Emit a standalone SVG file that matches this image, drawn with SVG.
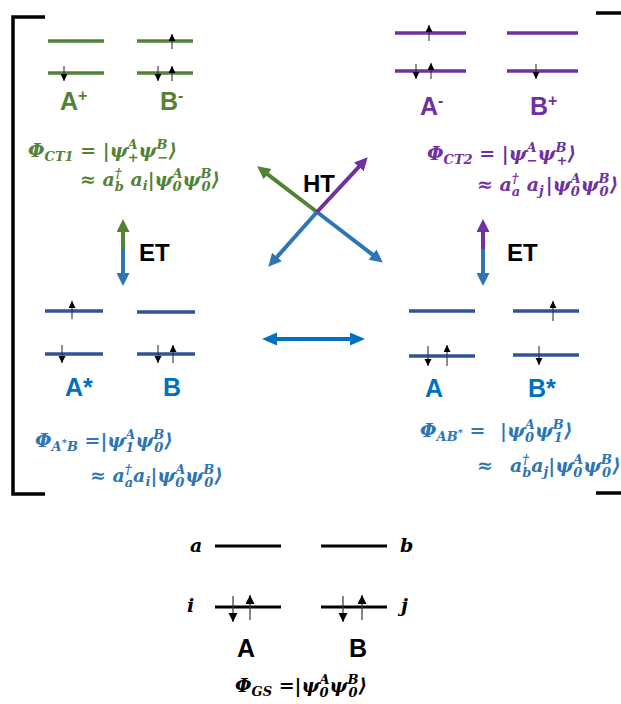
<svg xmlns="http://www.w3.org/2000/svg" width="621" height="704" viewBox="0 0 621 704">
<style>
.lv{stroke-width:3.5;fill:none}
.lg{stroke:#548235}.lp{stroke:#7030a0}.lb{stroke:#2f5597}.lk{stroke:#000;stroke-width:3}
.e{stroke:#333;stroke-width:1.1;marker-end:url(#eh)}
.ek{stroke:#333;stroke-width:1.2;marker-end:url(#ehk)}
.lab{font-family:"Liberation Sans",Arial,sans-serif;font-weight:bold;font-size:25px}
.m{font-family:"DejaVu Serif","Liberation Serif",serif;font-weight:bold;font-style:italic;font-size:19px}
.s{font-size:13px}
.ss{font-size:10px}
.tg{fill:#548235}.tp{fill:#7030a0}.tb{fill:#2e75b6}.tl{fill:#0070c0}.tk{fill:#000}
.br{stroke:#000;stroke-width:3.5;fill:none}
.ht{font-family:"Liberation Sans",Arial,sans-serif;font-weight:bold;font-size:24px;fill:#000}
</style>
<defs>
<marker id="eh" markerUnits="userSpaceOnUse" markerWidth="8" markerHeight="8" refX="7" refY="3.5" orient="auto"><path d="M0,0L7,3.5L0,7z" fill="#000"/></marker>
<marker id="ehk" markerUnits="userSpaceOnUse" markerWidth="10" markerHeight="10" refX="9" refY="4.5" orient="auto"><path d="M0,0L9,4.5L0,9z" fill="#000"/></marker>
<marker id="ag" markerUnits="userSpaceOnUse" markerWidth="14" markerHeight="14" refX="4" refY="6.5" orient="auto-start-reverse"><path d="M0,0L13,6.5L0,13z" fill="#548235"/></marker>
<marker id="ap" markerUnits="userSpaceOnUse" markerWidth="14" markerHeight="14" refX="4" refY="6.5" orient="auto-start-reverse"><path d="M0,0L13,6.5L0,13z" fill="#7030a0"/></marker>
<marker id="ab" markerUnits="userSpaceOnUse" markerWidth="14" markerHeight="14" refX="4" refY="6.5" orient="auto-start-reverse"><path d="M0,0L13,6.5L0,13z" fill="#2e75b6"/></marker>
<marker id="ac" markerUnits="userSpaceOnUse" markerWidth="16" markerHeight="14" refX="4" refY="6.5" orient="auto-start-reverse"><path d="M0,0L15,6.5L0,13z" fill="#0070c0"/></marker>
</defs>
<rect width="621" height="704" fill="#fff"/>

<g id="brackets">
<path class="br" d="M45,17H13V494H45"/>
<path class="br" d="M596,13H621M596,493H621"/>
</g>

<g id="ct1">
<line class="lv lg" x1="48" y1="41" x2="104" y2="41"/>
<line class="lv lg" x1="48" y1="73" x2="104" y2="73"/>
<line class="lv lg" x1="137" y1="41" x2="193" y2="41"/>
<line class="lv lg" x1="137" y1="73" x2="193" y2="73"/>
<line class="e" x1="64" y1="66" x2="64" y2="81"/>
<line class="e" x1="172" y1="49" x2="172" y2="34"/>
<line class="e" x1="158" y1="66" x2="158" y2="81"/>
<line class="e" x1="172" y1="81" x2="172" y2="66"/>
<text class="lab tg" x="60" y="110">A<tspan font-size="16" dy="-9">+</tspan></text>
<text class="lab tg" x="160" y="110">B<tspan font-size="16" dy="-9">-</tspan></text>
<text class="m tg" x="28" y="157">Φ<tspan class="s" dy="4">CT1</tspan><tspan dy="-4"> = |ψ</tspan><tspan class="s" dy="-8">A</tspan><tspan class="s" dx="-10" dy="13">+</tspan><tspan dy="-5">ψ</tspan><tspan class="s" dy="-8">B</tspan><tspan class="s" dx="-10" dy="13">−</tspan><tspan dy="-5">⟩</tspan></text>
<text class="m tg" x="80" y="186">≈ a<tspan class="s" dy="-8">†</tspan><tspan class="s" dx="-7" dy="13">b</tspan><tspan dy="-5"> a</tspan><tspan class="s" dy="4">i</tspan><tspan dy="-4">|ψ</tspan><tspan class="s" dy="-8">A</tspan><tspan class="s" dx="-10" dy="13">0</tspan><tspan dy="-5" dx="1">ψ</tspan><tspan class="s" dy="-8">B</tspan><tspan class="s" dx="-10" dy="13">0</tspan><tspan dy="-5" dx="1">⟩</tspan></text>
</g>

<g id="ct2">
<line class="lv lp" x1="395" y1="33" x2="466" y2="33"/>
<line class="lv lp" x1="395" y1="71" x2="466" y2="71"/>
<line class="lv lp" x1="507" y1="33" x2="578" y2="33"/>
<line class="lv lp" x1="507" y1="71" x2="578" y2="71"/>
<line class="e" x1="429" y1="41" x2="429" y2="25"/>
<line class="e" x1="416" y1="64" x2="416" y2="79"/>
<line class="e" x1="431" y1="79" x2="431" y2="63"/>
<line class="e" x1="536" y1="64" x2="536" y2="79"/>
<text class="lab tp" x="420" y="115">A<tspan font-size="16" dy="-9">-</tspan></text>
<text class="lab tp" x="530" y="115">B<tspan font-size="16" dy="-9">+</tspan></text>
<text class="m tp" x="427" y="160">Φ<tspan class="s" dy="4">CT2</tspan><tspan dy="-4"> = |ψ</tspan><tspan class="s" dy="-8">A</tspan><tspan class="s" dx="-10" dy="13">−</tspan><tspan dy="-5">ψ</tspan><tspan class="s" dy="-8">B</tspan><tspan class="s" dx="-10" dy="13">+</tspan><tspan dy="-5">⟩</tspan></text>
<text class="m tp" x="477" y="191">≈ a<tspan class="s" dy="-8">†</tspan><tspan class="s" dx="-7" dy="13">a</tspan><tspan dy="-5"> a</tspan><tspan class="s" dy="4">j</tspan><tspan dy="-4" dx="2">|ψ</tspan><tspan class="s" dy="-8">A</tspan><tspan class="s" dx="-10" dy="13">0</tspan><tspan dy="-5" dx="1">ψ</tspan><tspan class="s" dy="-8">B</tspan><tspan class="s" dx="-10" dy="13">0</tspan><tspan dy="-5" dx="1">⟩</tspan></text>
</g>

<g id="astarb">
<line class="lv lb" x1="45" y1="311" x2="103" y2="311"/>
<line class="lv lb" x1="45" y1="354" x2="103" y2="354"/>
<line class="lv lb" x1="137" y1="312" x2="195" y2="312"/>
<line class="lv lb" x1="137" y1="354" x2="195" y2="354"/>
<line class="e" x1="72" y1="319" x2="72" y2="301"/>
<line class="e" x1="62" y1="345" x2="62" y2="363"/>
<line class="e" x1="158" y1="345" x2="158" y2="363"/>
<line class="e" x1="173" y1="363" x2="173" y2="345"/>
<text class="lab tl" x="65" y="396">A*</text>
<text class="lab tl" x="163" y="396">B</text>
<text class="m tb" x="35" y="447">Φ<tspan class="s" dy="4">A</tspan><tspan class="ss" dy="-5">*</tspan><tspan class="s" dy="5">B</tspan><tspan dy="-4"> =|ψ</tspan><tspan class="s" dy="-8">A</tspan><tspan class="s" dx="-10" dy="13">1</tspan><tspan dy="-5" dx="1">ψ</tspan><tspan class="s" dy="-8">B</tspan><tspan class="s" dx="-10" dy="13">0</tspan><tspan dy="-5" dx="1">⟩</tspan></text>
<text class="m tb" x="90" y="482">≈ a<tspan class="s" dy="-8">†</tspan><tspan class="s" dx="-7" dy="13">a</tspan><tspan dy="-5">a</tspan><tspan class="s" dy="4">i</tspan><tspan dy="-4">|ψ</tspan><tspan class="s" dy="-8">A</tspan><tspan class="s" dx="-10" dy="13">0</tspan><tspan dy="-5" dx="1">ψ</tspan><tspan class="s" dy="-8">B</tspan><tspan class="s" dx="-10" dy="13">0</tspan><tspan dy="-5" dx="1">⟩</tspan></text>
</g>

<g id="abstar">
<line class="lv lb" x1="409" y1="311" x2="475" y2="311"/>
<line class="lv lb" x1="409" y1="356" x2="475" y2="356"/>
<line class="lv lb" x1="513" y1="311" x2="579" y2="311"/>
<line class="lv lb" x1="513" y1="355" x2="579" y2="355"/>
<line class="e" x1="428" y1="346" x2="428" y2="366"/>
<line class="e" x1="447" y1="366" x2="447" y2="345"/>
<line class="e" x1="553" y1="321" x2="553" y2="301"/>
<line class="e" x1="539" y1="346" x2="539" y2="365"/>
<text class="lab tl" x="425" y="397">A</text>
<text class="lab tl" x="528" y="397">B*</text>
<text class="m tb" x="420" y="437">Φ<tspan class="s" dy="4">AB</tspan><tspan class="ss" dy="-5">*</tspan><tspan dy="1"> =</tspan><tspan x="500">|ψ</tspan><tspan class="s" dy="-8">A</tspan><tspan class="s" dx="-10" dy="13">0</tspan><tspan dy="-5" dx="1">ψ</tspan><tspan class="s" dy="-8">B</tspan><tspan class="s" dx="-10" dy="13">1</tspan><tspan dy="-5" dx="1">⟩</tspan></text>
<text class="m tb" x="477" y="472">≈<tspan x="510">a</tspan><tspan class="s" dy="-8">†</tspan><tspan class="s" dx="-7" dy="13">b</tspan><tspan dy="-5">a</tspan><tspan class="s" dy="4">j</tspan><tspan dy="-4">|ψ</tspan><tspan class="s" dy="-8">A</tspan><tspan class="s" dx="-10" dy="13">0</tspan><tspan dy="-5" dx="1">ψ</tspan><tspan class="s" dy="-8">B</tspan><tspan class="s" dx="-10" dy="13">0</tspan><tspan dy="-5" dx="1">⟩</tspan></text>
</g>

<g id="gs">
<line class="lk" x1="215" y1="546" x2="281" y2="546"/>
<line class="lk" x1="321" y1="546" x2="387" y2="546"/>
<line class="lk" x1="215" y1="607" x2="281" y2="607"/>
<line class="lk" x1="321" y1="607" x2="387" y2="607"/>
<line class="ek" x1="233" y1="596" x2="233" y2="622"/>
<line class="ek" x1="250" y1="620" x2="250" y2="595"/>
<line class="ek" x1="343" y1="596" x2="343" y2="622"/>
<line class="ek" x1="362" y1="620" x2="362" y2="595"/>
<text class="m tk" x="190" y="552">a</text>
<text class="m tk" x="400" y="552">b</text>
<text class="m tk" x="187" y="612">i</text>
<text class="m tk" x="401" y="612">j</text>
<text class="lab tk" x="237" y="657" font-size="26">A</text>
<text class="lab tk" x="349" y="657" font-size="26">B</text>
<text class="m tk" x="235" y="692">Φ<tspan class="s" dy="4">GS</tspan><tspan dy="-4"> =|ψ</tspan><tspan class="s" dy="-8">A</tspan><tspan class="s" dx="-10" dy="13">0</tspan><tspan dy="-5" dx="1">ψ</tspan><tspan class="s" dy="-8">B</tspan><tspan class="s" dx="-10" dy="13">0</tspan><tspan dy="-5" dx="1">⟩</tspan></text>
</g>

<g id="connectors" fill="none" stroke-width="4">
<line x1="317" y1="212" x2="264.4" y2="171.8" stroke="#548235" marker-end="url(#ag)"/>
<line x1="317" y1="212" x2="375.7" y2="257.1" stroke="#2e75b6" marker-end="url(#ab)"/>
<line x1="317" y1="212" x2="361.6" y2="163.9" stroke="#7030a0" marker-end="url(#ap)"/>
<line x1="317" y1="212" x2="274.3" y2="260" stroke="#2e75b6" marker-end="url(#ab)"/>
<line x1="273" y1="339" x2="354" y2="339" stroke="#0070c0" marker-start="url(#ac)" marker-end="url(#ac)"/>
<line x1="123" y1="251" x2="123" y2="228" stroke="#548235" marker-end="url(#ag)"/>
<line x1="123" y1="249" x2="123" y2="277" stroke="#2e75b6" marker-end="url(#ab)"/>
<line x1="483" y1="251" x2="483" y2="228" stroke="#7030a0" marker-end="url(#ap)"/>
<line x1="483" y1="249" x2="483" y2="277" stroke="#2e75b6" marker-end="url(#ab)"/>
</g>
<text class="ht" x="303" y="192">HT</text>
<text class="ht" x="139" y="261">ET</text>
<text class="ht" x="507" y="261">ET</text>
</svg>
